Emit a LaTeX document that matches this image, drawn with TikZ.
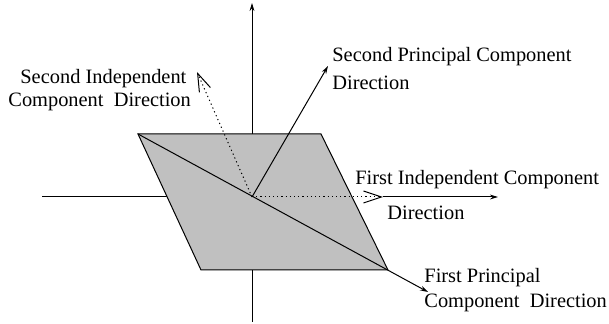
\documentclass[tikz,border=0pt]{standalone}
\usepackage{fontspec}
\setmainfont{Liberation Serif}
\usetikzlibrary{arrows.meta}
\definecolor{planegray}{RGB}{192,192,192}
\begin{document}
\begin{tikzpicture}[
  x=0.5pt, y=-0.5pt,
  axis/.style={line width=0.5pt},
  solidarrow/.style={line width=0.5pt, -{Stealth[length=4pt, width=2.4pt]}},
  dotarrow/.style={line width=0.5pt, dash pattern=on 0.6pt off 1.5pt,
    -{Straight Barb[length=9pt, width=6pt, line width=0.5pt]}},
  lbl/.style={anchor=base west, inner sep=0pt, font=\fontsize{10.2}{12}\selectfont},
]
\useasboundingbox (0,0) rectangle (609,324);

% Points
\coordinate (o) at (252,197);
\coordinate (tl) at (138,134);
\coordinate (tr) at (321,134);
\coordinate (br) at (388,270);
\coordinate (bl) at (201,270);
\coordinate (ytop) at (252,3);
\coordinate (ybot) at (252,322);
\coordinate (xleft) at (42,197);
\coordinate (xright) at (498,197);
\coordinate (icx) at (383,197);
\coordinate (icy) at (197,72);
\coordinate (pcy) at (328,66);
\coordinate (pcx) at (428,292);

% Axes
\draw[solidarrow] (ybot) -- (ytop);
\draw[axis] (xleft) -- (o);

% Plane
\draw[line width=0.5pt, fill=planegray] (tl) -- (tr) -- (br) -- (bl) -- cycle;

% Principal directions
\draw[solidarrow] (tl) -- (pcx);
\draw[solidarrow] (o) -- (pcy);

% Independent directions
\draw[dotarrow] (o) -- (icy);
\draw[dotarrow] (o) -- (icx);
\draw[solidarrow] (icx) -- (xright);

% Labels
\node[lbl] (sic1) at (20,84) {Second Independent};
\node[lbl] (sic2) at (8,107) {Component\ \ Direction};
\node[lbl] (spc1) at (332,62) {Second Principal Component};
\node[lbl] (spc2) at (332,90) {Direction};
\node[lbl] (fic1) at (355,185) {First Independent Component};
\node[lbl] (fic2) at (387,220) {Direction};
\node[lbl] (fpc1) at (424,283) {First Principal};
\node[lbl] (fpc2) at (424,308) {Component\ \ Direction};

\end{tikzpicture}
\end{document}
